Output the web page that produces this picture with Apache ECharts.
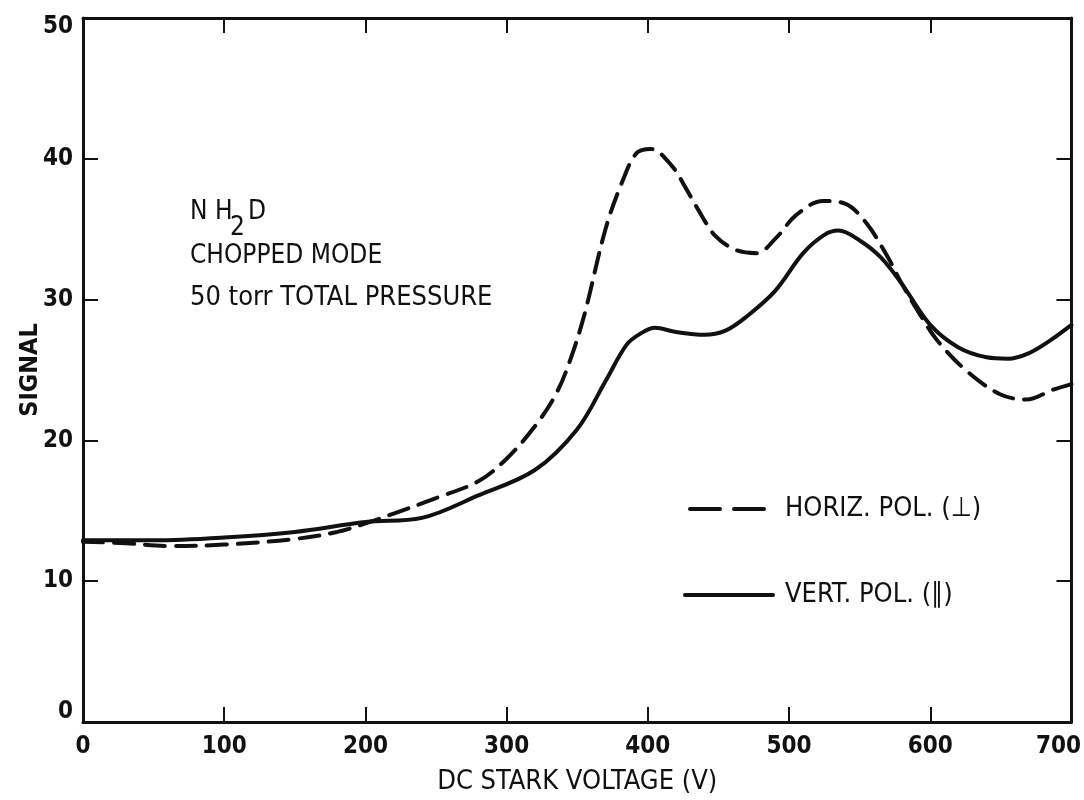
<!DOCTYPE html>
<html>
<head>
<meta charset="utf-8">
<script src="https://cdn.jsdelivr.net/npm/echarts@6/dist/echarts.min.js"></script>
<style>
html,body{margin:0;padding:0;background:#fff;width:1084px;height:800px;overflow:hidden;}
#chart{position:absolute;left:0;top:0;width:1084px;height:800px;}
</style>
</head>
<body>
<div id="chart"></div>
<script>
// ---- data ----
var xTicks = [0, 100, 200, 300, 400, 500, 600, 700];
var yTicks = [0, 10, 20, 30, 40, 50];

var vertVolts  = [0, 50, 100, 150, 200, 240, 280, 320, 350, 370, 385, 395, 405, 420, 440, 455, 470, 490, 510, 525, 535, 550, 565, 580, 600, 620, 640, 655, 670, 685, 700];
var vertSignal = [12.9, 12.9, 13.1, 13.5, 14.2, 14.5, 16.1, 17.9, 20.8, 24.2, 26.8, 27.6, 28.0, 27.7, 27.5, 27.8, 28.8, 30.6, 33.3, 34.6, 34.9, 34.2, 33.0, 31.1, 28.2, 26.6, 25.9, 25.8, 26.2, 27.1, 28.2];

var horizVolts  = [0, 30, 60, 100, 150, 180, 200, 220, 250, 280, 300, 320, 335, 345, 355, 370, 382, 392, 402, 417, 427, 435, 448, 463, 477, 491, 505, 524, 540, 555, 570, 580, 593, 605, 625, 649, 668, 687, 700];
var horizSignal = [12.8, 12.7, 12.5, 12.6, 13.0, 13.5, 14.1, 14.8, 15.9, 17.1, 18.7, 21.0, 23.3, 25.7, 28.9, 35.0, 38.4, 40.4, 40.7, 39.5, 37.9, 36.5, 34.5, 33.5, 33.3, 34.4, 36.0, 37.0, 36.8, 35.4, 33.0, 31.1, 28.9, 27.1, 25.0, 23.3, 22.9, 23.6, 24.0];

var seriesNames = ['HORIZ. POL. (⊥)', 'VERT. POL. (∥)'];
var annotation = ['CHOPPED MODE', '50 torr TOTAL PRESSURE'];
var yName = 'SIGNAL';

function pairs(xs, ys) { return xs.map(function (x, i) { return [x, ys[i]]; }); }

var FONT = '"DejaVu Sans Condensed", "Liberation Sans Narrow", sans-serif';
var INK = '#111';
var TICKFONT = 24;

var chart = echarts.init(document.getElementById('chart'), null, {renderer: 'canvas'});

var axisCommon = {
  type: 'value',
  axisLine: {show: true, onZero: false, lineStyle: {color: INK, width: 3}},
  axisTick: {show: true, inside: true, length: 15, lineStyle: {color: INK, width: 2}},
  splitLine: {show: false}
};

function richStyle(pad) {
  return {fontFamily: FONT, fontWeight: 'bold', fontSize: TICKFONT, color: INK, padding: pad};
}

var option = {
  backgroundColor: '#fff',
  animation: false,
  grid: {left: 83, right: 10, top: 18, bottom: 72, containLabel: false},
  xAxis: [
    Object.assign({}, axisCommon, {
      position: 'bottom', min: 0, max: 700, interval: 100,
      name: 'DC STARK VOLTAGE (V)', nameLocation: 'middle', nameGap: 46,
      nameTextStyle: {fontFamily: FONT, fontSize: 27, color: INK},
      axisLabel: {show: true, margin: 13, fontFamily: FONT, fontWeight: 'bold', fontSize: TICKFONT, color: INK,
        formatter: function (v) {
          if (xTicks.indexOf(v) < 0) return '';
          return v === 700 ? '{r|' + v + '}' : String(v);
        },
        rich: {r: richStyle([0, 26, 0, 0])}
      }
    }),
    Object.assign({}, axisCommon, {
      position: 'top', min: 0, max: 700, interval: 100,
      axisLabel: {show: false}
    })
  ],
  yAxis: [
    Object.assign({}, axisCommon, {
      position: 'left', min: 0, max: 50, interval: 10,
      axisLabel: {show: true, margin: 10, fontFamily: FONT, fontWeight: 'bold', fontSize: TICKFONT, color: INK,
        formatter: function (v) {
          if (yTicks.indexOf(v) < 0) return '';
          if (v === 0) return '{lo|0}';
          if (v === 50) return '{hi|50}';
          return String(v);
        },
        rich: {
          lo: richStyle([0, 0, 20, 0]),
          hi: richStyle([18, 0, 0, 0])
        }
      }
    }),
    Object.assign({}, axisCommon, {
      position: 'right', min: 0, max: 50, interval: 10,
      axisLabel: {show: false}
    })
  ],
  series: [
    {
      name: seriesNames[0], type: 'line', xAxisIndex: 0, yAxisIndex: 0,
      data: pairs(horizVolts, horizSignal),
      smooth: 0.35, symbol: 'none',
      lineStyle: {color: INK, width: 4, type: [20, 11], cap: 'round'}
    },
    {
      name: seriesNames[1], type: 'line', xAxisIndex: 0, yAxisIndex: 0,
      data: pairs(vertVolts, vertSignal),
      smooth: 0.35, symbol: 'none',
      lineStyle: {color: INK, width: 4, type: 'solid', cap: 'round'}
    }
  ],
  graphic: [
    // y axis title
    {type: 'text', x: 30, y: 370, rotation: Math.PI / 2,
      style: {text: yName, font: 'bold 25px ' + FONT, fill: INK, align: 'center', verticalAlign: 'middle'}},
    // annotation block
    {type: 'text', left: 190, top: 199, style: {text: 'N H', font: '26px ' + FONT, fill: INK}},
    {type: 'text', left: 230, top: 215, style: {text: '2', font: '26px ' + FONT, fill: INK}},
    {type: 'text', left: 248, top: 199, style: {text: 'D', font: '26px ' + FONT, fill: INK}},
    {type: 'text', left: 190, top: 243, style: {text: annotation[0], font: '26px ' + FONT, fill: INK}},
    {type: 'text', left: 190, top: 284, style: {text: annotation[1], font: '27px ' + FONT, fill: INK}},
    // legend
    {type: 'line', shape: {x1: 690, y1: 509, x2: 772, y2: 509},
      style: {stroke: INK, lineWidth: 4, lineDash: [30, 14], lineCap: 'round'}},
    {type: 'text', left: 785, top: 495, style: {text: seriesNames[0], font: '27px ' + FONT, fill: INK}},
    {type: 'line', shape: {x1: 685, y1: 595, x2: 773, y2: 595},
      style: {stroke: INK, lineWidth: 4, lineCap: 'round'}},
    {type: 'text', left: 785, top: 581, style: {text: seriesNames[1], font: '27px ' + FONT, fill: INK}}
  ]
};

chart.setOption(option);
</script>
</body>
</html>
